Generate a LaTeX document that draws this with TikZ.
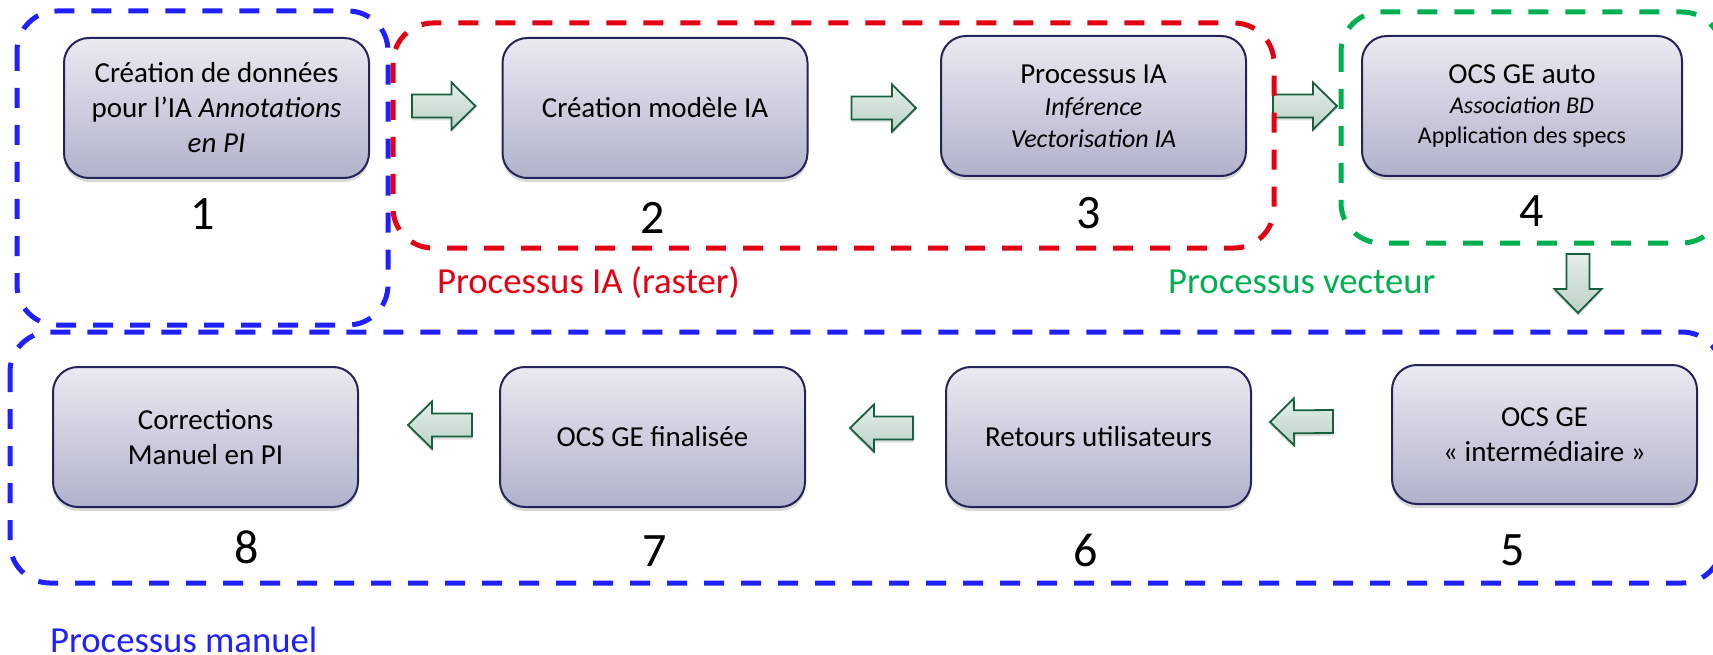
\documentclass[tikz,border=0pt]{standalone}
\usepackage{fontspec}
\setmainfont{Carlito}
\usetikzlibrary{calc,shadows}
\definecolor{cblue}{RGB}{32,32,255}
\definecolor{cred}{RGB}{228,0,18}
\definecolor{cgreen}{RGB}{0,176,80}
\definecolor{boxline}{RGB}{36,36,90}
\definecolor{boxtop}{RGB}{234,234,241}
\definecolor{boxbot}{RGB}{176,178,203}
\definecolor{arrline}{RGB}{22,96,62}
\definecolor{arrtop}{RGB}{228,238,232}
\definecolor{arrbot}{RGB}{188,210,197}
\tikzset{
  stepbox/.style={draw=boxline, line width=2pt, rounded corners=25pt,
    top color=boxtop, bottom color=boxbot, minimum width=305pt, minimum height=140pt,
    align=center, inner sep=0pt, font=\fontsize{29}{35}\selectfont,
    drop shadow={shadow xshift=0pt, shadow yshift=-4pt, opacity=.3}},
  numlabel/.style={font=\fontsize{48}{48}\selectfont, inner sep=0pt},
  grouplabel/.style={font=\fontsize{36.7}{40}\selectfont, anchor=base west, inner sep=0pt},
  groupframe/.style={line width=5pt, dash pattern=on 20pt off 17pt, rounded corners=40pt},
  barrow/.style={draw=arrline, line width=1.8pt, top color=arrtop, bottom color=arrbot,
    line join=miter, drop shadow={shadow xshift=0pt, shadow yshift=-3pt, opacity=.25}},
}
\newcommand\blockarrow[2]{%
  \path ($(#2)!24pt!(#1)$) coordinate (ah);
  \draw[barrow] ($(#1)!11.5pt!90:(#2)$) -- ($(ah)!11.5pt!90:(#2)$) -- ($(ah)!23.5pt!90:(#2)$)
    -- (#2) -- ($(ah)!23.5pt!-90:(#2)$) -- ($(ah)!11.5pt!-90:(#2)$)
    -- ($(#1)!11.5pt!-90:(#2)$) -- cycle;}
\begin{document}
\begin{tikzpicture}[x=1pt,y=-1pt]
\useasboundingbox (0,0) rectangle (1713,655);
\clip (0,0) rectangle (1713,655);
% steps
\node[stepbox] (n1) at (216.5,108) {Création de données\\pour l’IA \textit{Annotations}\\\textit{en PI}};
\node[stepbox] (n2) at (655,108) {Création modèle IA};
\node[stepbox, font=\fontsize{29}{32}\selectfont] (n3) at (1093.5,106) {Processus IA\\{\fontsize{26}{32}\selectfont\itshape Inférence}\\{\fontsize{26}{32}\selectfont\itshape Vectorisation IA}};
\node[stepbox, minimum width=320pt, font=\fontsize{29}{30}\selectfont] (n4) at (1522,106) {OCS GE auto\\{\fontsize{24}{30}\selectfont\itshape Association BD}\\{\fontsize{24}{30}\selectfont Application des specs}};
\node[stepbox, minimum height=139pt] (n5) at (1544.5,434.5) {OCS GE\\«~intermédiaire~»};
\node[stepbox] (n6) at (1098.5,437) {Retours utilisateurs};
\node[stepbox] (n7) at (652.5,437) {OCS GE finalisée};
\node[stepbox] (n8) at (205.5,437) {Corrections\\Manuel en PI};
% numbers
\node[numlabel] (l1) at (203,214) {1};
\node[numlabel] (l2) at (653,218) {2};
\node[numlabel] (l3) at (1089,213) {3};
\node[numlabel] (l4) at (1532,211) {4};
\node[numlabel] (l5) at (1513,550) {5};
\node[numlabel] (l6) at (1086,550) {6};
\node[numlabel] (l7) at (655,551) {7};
\node[numlabel] (l8) at (247,547) {8};
% arrow end points
\coordinate (t12) at ($(n1.east)+(42,-2)$);
\coordinate (h12) at ($(n2.west)+(-26,-2)$);
\coordinate (t23) at ($(n2.east)+(43,0)$);
\coordinate (h23) at ($(n3.west)+(-24,2)$);
\coordinate (t34) at ($(n3.east)+(26,0)$);
\coordinate (h34) at ($(n4.west)+(-24,0)$);
\coordinate (t45) at ($(n4.south)+(56,77)$);
\coordinate (h45) at ($(n5.north)+(33.5,-51)$);
\coordinate (t56) at ($(n5.west)+(-58,-13)$);
\coordinate (h56) at ($(n6.east)+(18,-15)$);
\coordinate (t67) at ($(n6.west)+(-32,-9)$);
\coordinate (h67) at ($(n7.east)+(44,-9)$);
\coordinate (t78) at ($(n7.west)+(-27,-12)$);
\coordinate (h78) at ($(n8.east)+(49,-12)$);
\blockarrow{t12}{h12}
\blockarrow{t23}{h23}
\blockarrow{t34}{h34}
\blockarrow{t45}{h45}
\blockarrow{t56}{h56}
\blockarrow{t67}{h67}
\blockarrow{t78}{h78}
% group frames
\draw[groupframe, cblue] (17,11) rectangle (388,325);
\draw[groupframe, cred] (393,23) rectangle (1274,248);
\draw[groupframe, cgreen] (1341,12) rectangle (1722,243);
\draw[groupframe, cblue] (10,332) rectangle (1722,583);
% group labels
\node[grouplabel, text=cred] (g1) at (437,293) {Processus IA (raster)};
\node[grouplabel, text=cgreen] (g2) at (1168,293) {Processus vecteur};
\node[grouplabel, text=cblue] (g3) at (50,652) {Processus manuel};
\end{tikzpicture}
\end{document}
